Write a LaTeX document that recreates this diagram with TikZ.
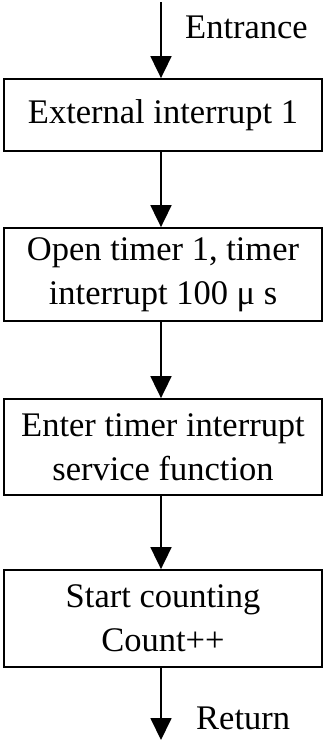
\documentclass[tikz,border=0pt]{standalone}
\usepackage{fontspec}
\setmainfont{Liberation Serif}
\usetikzlibrary{arrows.meta}
\begin{document}
\begin{tikzpicture}[x=1pt,y=-1pt,
  txt/.style={font=\fontsize{34.5pt}{44pt}\selectfont},
  box/.style={txt,draw,line width=1.8pt,minimum width=318pt,inner sep=0pt,align=center},
  flow/.style={line width=1.8pt,-{Triangle[length=22pt,width=21pt]}},
  lbl/.style={txt,anchor=base west,inner sep=0pt}]
\useasboundingbox (0,0) rectangle (325,740);
% process boxes
\node[box,minimum height=72pt] (b1) at (163,115) {External interrupt 1};
\node[box,minimum height=93pt] (b2) at (163,274.5) {Open timer 1, timer\\interrupt 100 μ s};
\node[box,minimum height=96pt] (b3) at (163,447) {Enter timer interrupt\\service function};
\node[box,minimum height=97pt] (b4) at (163,618.5) {Start counting\\Count++};
% free ends of the entry and exit arrows
\coordinate (in) at (161,2);
\coordinate (out) at (161,740);
% connectors
\draw[flow] (in) -- (in |- b1.north);
\draw[flow] (b1.south -| in) -- (b2.north -| in);
\draw[flow] (b2.south -| in) -- (b3.north -| in);
\draw[flow] (b3.south -| in) -- (b4.north -| in);
\draw[flow] (b4.south -| in) -- (out);
% labels
\node[lbl] (entr) at (185,38) {Entrance};
\node[lbl] (ret) at (196,729) {Return};
\end{tikzpicture}
\end{document}
